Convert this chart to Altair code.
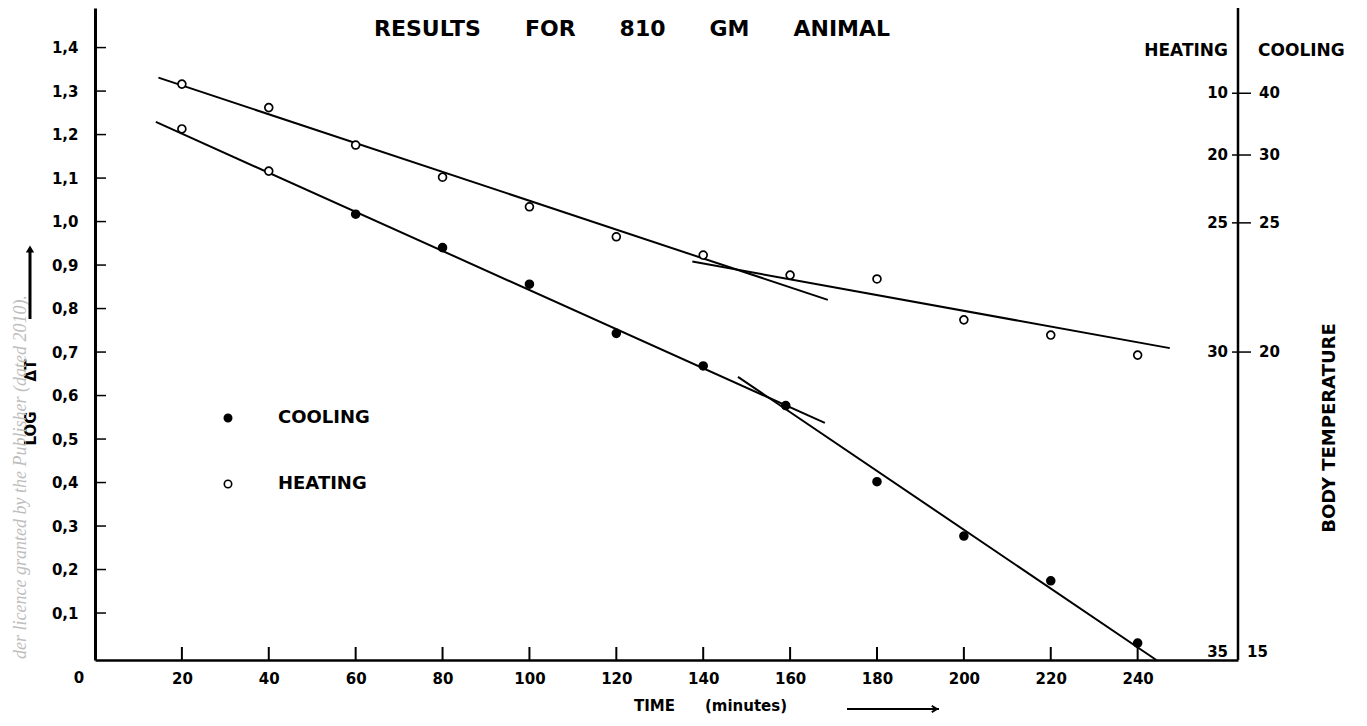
import altair as alt
import pandas as pd

# ---------------- values ----------------
heat_time = [20, 40, 60, 80, 100, 120, 140, 160, 180, 200, 220, 240]
heat_logdt = [1.316, 1.262, 1.176, 1.102, 1.034, 0.965, 0.923, 0.877, 0.868, 0.774, 0.739, 0.693]
heat_symbol = ["open"] * 12

cool_time = [20, 40, 60, 80, 100, 120, 140, 159, 180, 200, 220, 240]
cool_logdt = [1.213, 1.116, 1.017, 0.940, 0.856, 0.743, 0.668, 0.577, 0.402, 0.277, 0.174, 0.031]
cool_symbol = ["open", "open"] + ["filled"] * 10

# hand-drawn fitted lines (segment end points)
fit_segment = ["heat_a", "heat_a", "heat_b", "heat_b", "cool_a", "cool_a", "cool_b", "cool_b"]
fit_time = [14.6, 168.7, 137.5, 247.4, 14.0, 168.0, 148.0, 244.3]
fit_logdt = [1.331, 0.820, 0.908, 0.709, 1.229, 0.537, 0.643, -0.008]

x_tick_values = [20, 40, 60, 80, 100, 120, 140, 160, 180, 200, 220, 240]
x_origin_label = ["0"]
y_tick_values = [0.1, 0.2, 0.3, 0.4, 0.5, 0.6, 0.7, 0.8, 0.9, 1.0, 1.1, 1.2, 1.3, 1.4]

# body-temperature scale on the right (position in log dT units)
temp_position = [1.295, 1.153, 0.997, 0.700]
temp_heating = ["10", "20", "25", "30"]
temp_cooling = ["40", "30", "25", "20"]
temp_base_position = [0.010]
temp_base_heating = ["35"]
temp_base_cooling = ["15"]

symbol_kinds = ["filled", "open"]
legend_labels = ["COOLING", "HEATING"]

title_text = "RESULTS\u2003\u2003FOR\u2003\u2003810\u2003\u2003GM\u2003\u2003ANIMAL"
y_title = "LOG\u2003\u2003ΔT"
x_title = "TIME\u2003\u2003(minutes)"
header_left = ["HEATING"]
header_right = ["COOLING"]
side_title = ["BODY TEMPERATURE"]
watermark = ["der licence granted by the Publisher (dated 2010)."]

# ---------------- layout ----------------
W, H = 1143, 652
FONT = "DejaVu Sans"
x_scale = alt.Scale(domain=[0, 263.1], nice=False, zero=False)
y_scale = alt.Scale(domain=[-0.008, 1.491], nice=False, zero=False)

points = pd.DataFrame({
    "time": heat_time + cool_time,
    "logdt": heat_logdt + cool_logdt,
    "symbol": heat_symbol + cool_symbol,
})
fits = pd.DataFrame({"segment": fit_segment, "time": fit_time, "logdt": fit_logdt})
one = pd.DataFrame({"k": [0]})

label_expr = " : ".join(
    f"datum.label == '{k}' ? '{l}'" for k, l in zip(symbol_kinds[:-1], legend_labels[:-1])
) + f" : '{legend_labels[-1]}'"

X = alt.X("time:Q", scale=x_scale, title=x_title)
Y = alt.Y("logdt:Q", scale=y_scale, title=y_title)

lines = alt.Chart(fits).mark_line(color="black", strokeWidth=2).encode(
    x=alt.X("time:Q", scale=x_scale, title=x_title, axis=alt.Axis(
        values=x_tick_values, format="d", ticks=False, tickSize=0, grid=False,
        domainColor="black", domainWidth=2.5,
        labelFont=FONT, labelFontSize=15, labelFontWeight="bold", labelColor="black",
        labelPadding=18, labelBaseline="middle",
        titleFont=FONT, titleFontSize=15, titleFontWeight="bold",
        titleColor="black", titleX=615, titleY=45, titleBaseline="middle", titleAlign="center",
    )),
    y=alt.Y("logdt:Q", scale=y_scale, title=y_title, axis=alt.Axis(
        values=y_tick_values, ticks=False, tickSize=0, grid=False,
        labelExpr="replace(format(datum.value, '.1f'), '.', ',')",
        domainColor="black", domainWidth=3,
        labelFont=FONT, labelFontSize=15, labelFontWeight="bold", labelColor="black",
        labelPadding=17,
        titleFont=FONT, titleFontSize=15, titleFontWeight="bold",
        titleColor="black", titleX=-65, titleY=394, titleBaseline="middle", titleAlign="center",
    )),
    detail="segment:N",
)

pts = alt.Chart(points).mark_point(
    filled=True, shape="circle", size=62, stroke="black", strokeWidth=1.7, opacity=1
).encode(
    x=X, y=Y,
    fill=alt.Fill("symbol:N", scale=alt.Scale(domain=symbol_kinds, range=["black", "white"]),
                  legend=alt.Legend(
                      orient="none", legendX=124, legendY=401, title=None,
                      labelExpr=label_expr, labelFont=FONT, labelFontSize=18,
                      labelFontWeight="bold", labelColor="black", labelOffset=41,
                      rowPadding=48, padding=0, symbolSize=55,
                      symbolStrokeColor="black", symbolStrokeWidth=1.6,
                  )),
)

y_ticks = alt.Chart(pd.DataFrame({"logdt": y_tick_values})).mark_rule(
    color="black", strokeWidth=1.5
).encode(y=Y, x=alt.value(0), x2=alt.value(11))

x_ticks = alt.Chart(pd.DataFrame({"time": x_tick_values})).mark_rule(
    color="black", strokeWidth=2
).encode(x=X, y=alt.value(H), y2=alt.value(H - 13))

x_zero = alt.Chart(pd.DataFrame({"s": x_origin_label})).mark_text(
    font=FONT, fontSize=15, fontWeight="bold", color="black", align="center", baseline="middle"
).encode(x=alt.value(-16), y=alt.value(H + 18), text="s:N")

right_axis = alt.Chart(one).mark_rule(color="black", strokeWidth=2.5).encode(
    x=alt.value(W), y=alt.value(0), y2=alt.value(H)
)

temp = pd.DataFrame({"logdt": temp_position, "heat": temp_heating, "cool": temp_cooling})
temp_base = pd.DataFrame({"logdt": temp_base_position, "heat": temp_base_heating,
                          "cool": temp_base_cooling})

r_ticks = alt.Chart(temp).mark_rule(color="black", strokeWidth=1.5).encode(
    y=Y, x=alt.value(W - 6), x2=alt.value(W + 13)
)
txt = dict(font=FONT, fontSize=15, fontWeight="bold", color="black", baseline="middle")
r_heat = alt.Chart(temp).mark_text(align="right", **txt).encode(
    y=Y, x=alt.value(W - 10), text="heat:N")
r_cool = alt.Chart(temp).mark_text(align="left", **txt).encode(
    y=Y, x=alt.value(W + 21), text="cool:N")
rb_heat = alt.Chart(temp_base).mark_text(align="right", **txt).encode(
    y=Y, x=alt.value(W - 10), text="heat:N")
rb_cool = alt.Chart(temp_base).mark_text(align="left", **txt).encode(
    y=Y, x=alt.value(W + 9), text="cool:N")

hdr = dict(font=FONT, fontSize=17, fontWeight="bold", color="black", baseline="middle")
h_left = alt.Chart(pd.DataFrame({"s": header_left})).mark_text(align="right", **hdr).encode(
    x=alt.value(W - 10), y=alt.value(43), text="s:N")
h_right = alt.Chart(pd.DataFrame({"s": header_right})).mark_text(align="left", **hdr).encode(
    x=alt.value(W + 20), y=alt.value(43), text="s:N")
side = alt.Chart(pd.DataFrame({"s": side_title})).mark_text(
    align="center", angle=270, font=FONT, fontSize=18, fontWeight="bold",
    color="black", baseline="middle").encode(
    x=alt.value(W + 92), y=alt.value(420), text="s:N")

wm = alt.Chart(pd.DataFrame({"s": watermark})).mark_text(
    align="right", angle=270, font="Liberation Serif", fontStyle="italic", fontSize=18,
    color="#bdbdbd", baseline="middle").encode(
    x=alt.value(-74), y=alt.value(287), text="s:N")

# arrows next to the axis titles
y_arrow = alt.Chart(one).mark_rule(color="black", strokeWidth=3).encode(
    x=alt.value(-65), y=alt.value(243), y2=alt.value(311))
y_head = alt.Chart(one).mark_point(shape="triangle-up", filled=True, color="black", size=70,
                                   opacity=1).encode(x=alt.value(-65), y=alt.value(241))
x_arrow = alt.Chart(one).mark_rule(color="black", strokeWidth=1.8).encode(
    x=alt.value(752), x2=alt.value(844), y=alt.value(701))
x_head = alt.Chart(one).mark_point(shape="M-1,-0.6L0,0L-1,0.6", filled=False, color="black",
                                   strokeWidth=1.8, size=110, opacity=1).encode(
    x=alt.value(842), y=alt.value(701))

chart = alt.layer(
    lines, pts, y_ticks, x_ticks, x_zero, right_axis, r_ticks, r_heat, r_cool, rb_heat, rb_cool,
    h_left, h_right, side, wm, y_arrow, y_head, x_arrow, x_head,
).properties(
    width=W, height=H,
    padding={"left": 87, "top": 0, "right": 121, "bottom": 56},
    autosize=alt.AutoSizeParams(type="none"),
    title=alt.TitleParams(
        text=title_text, anchor="start", dx=362, dy=44, offset=0, baseline="middle",
        font=FONT, fontSize=22, fontWeight="bold", color="black",
    ),
).configure(background="white").configure_view(stroke=None)

chart.save("out.html", embed_options={"renderer": "svg", "actions": False})
